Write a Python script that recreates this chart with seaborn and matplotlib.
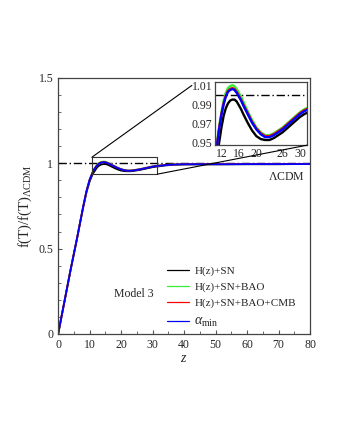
import numpy as np
import pandas as pd
import matplotlib
matplotlib.use("Agg")
import matplotlib.pyplot as plt
from matplotlib.patches import Rectangle, ConnectionPatch
from matplotlib.ticker import MultipleLocator, FixedLocator
import seaborn as sns

# ---------------- data ----------------
z = [0, 1, 2, 3, 4, 5, 6, 7, 8, 9, 10,
     11, 11.5, 12, 12.5, 13, 13.5, 14, 14.5, 15, 15.5, 16, 16.5, 17,
     18, 19, 20, 21, 22, 23, 24, 25, 26, 27, 28, 29, 30, 31, 32,
     34, 36, 38, 40, 45, 50, 55, 60, 65, 70, 75, 80]

f_hsn = [0, 0.095, 0.19, 0.285, 0.38, 0.47, 0.56, 0.655, 0.745, 0.83, 0.893,
         0.938, 0.951, 0.966, 0.978, 0.986, 0.991, 0.994, 0.995, 0.995, 0.993, 0.989, 0.985, 0.980,
         0.971, 0.963, 0.957, 0.954, 0.953, 0.953, 0.955, 0.958, 0.961, 0.965, 0.969, 0.973, 0.977, 0.980, 0.982,
         0.987, 0.990, 0.992, 0.993, 0.994, 0.994, 0.994, 0.994, 0.994, 0.994, 0.995, 0.995]

f_hsn_bao = [0, 0.095, 0.19, 0.285, 0.38, 0.47, 0.56, 0.655, 0.75, 0.838, 0.905,
             0.950, 0.968, 0.982, 0.994, 1.002, 1.007, 1.009, 1.010, 1.009, 1.006, 1.002, 0.998, 0.993,
             0.983, 0.974, 0.966, 0.961, 0.958, 0.958, 0.960, 0.963, 0.966, 0.970, 0.974, 0.978, 0.982, 0.985, 0.987,
             0.990, 0.992, 0.993, 0.994, 0.994, 0.994, 0.995, 0.995, 0.995, 0.995, 0.995, 0.995]

f_hsn_bao_cmb = [0, 0.095, 0.19, 0.285, 0.38, 0.47, 0.56, 0.655, 0.75, 0.837, 0.904,
                 0.949, 0.966, 0.980, 0.991, 0.999, 1.004, 1.006, 1.007, 1.006, 1.003, 0.999, 0.995, 0.990,
                 0.981, 0.972, 0.965, 0.960, 0.957, 0.957, 0.959, 0.962, 0.965, 0.969, 0.973, 0.977, 0.981, 0.984, 0.986,
                 0.990, 0.992, 0.993, 0.994, 0.994, 0.994, 0.995, 0.995, 0.995, 0.995, 0.995, 0.995]

f_alpha_min = [0, 0.095, 0.19, 0.285, 0.38, 0.47, 0.56, 0.655, 0.75, 0.836, 0.903,
               0.948, 0.965, 0.979, 0.990, 0.998, 1.003, 1.005, 1.006, 1.005, 1.002, 0.998, 0.994, 0.989,
               0.980, 0.971, 0.964, 0.959, 0.956, 0.956, 0.958, 0.961, 0.964, 0.968, 0.972, 0.976, 0.980, 0.983, 0.985,
               0.989, 0.991, 0.993, 0.994, 0.994, 0.994, 0.994, 0.995, 0.995, 0.995, 0.995, 0.995]

series_labels = ["H(z)+SN", "H(z)+SN+BAO", "H(z)+SN+BAO+CMB", r"$\alpha_{\mathregular{min}}$"]
series_colors = ["#000000", "#33ee33", "#ff0000", "#0000ff"]

x_ticks = [0, 10, 20, 30, 40, 50, 60, 70, 80]
y_ticks = [0, 0.5, 1, 1.5]
y_tick_labels = ["0", "0.5", "1", "1.5"]
inset_x_ticks = [12, 16, 20, 26, 30]
inset_y_ticks = [0.95, 0.97, 0.99, 1.01]
inset_y_tick_labels = ["0.95", "0.97", "0.99", "1.01"]

df = pd.concat([
    pd.DataFrame({"z": z, "f": vals, "series": lab})
    for vals, lab in zip([f_hsn, f_hsn_bao, f_hsn_bao_cmb, f_alpha_min], series_labels)
], ignore_index=True)

# ---------------- style ----------------
sns.set_style("ticks")
plt.rcParams["font.family"] = ["Liberation Serif", "DejaVu Serif"]
plt.rcParams["mathtext.fontset"] = "custom"
plt.rcParams["mathtext.rm"] = "Liberation Serif"
plt.rcParams["mathtext.it"] = "Liberation Serif:italic"
plt.rcParams["mathtext.bf"] = "Liberation Serif:bold"

TS = 8.5  # tick / text size

fig = plt.figure(figsize=(3.4, 4.4), dpi=100)
ax = fig.add_axes([0.171, 0.241, 0.741, 0.582])

palette = dict(zip(series_labels, series_colors))
sns.lineplot(data=df, x="z", y="f", hue="series", hue_order=series_labels,
             palette=palette, ax=ax, legend=False, linewidth=1.3, sort=False,
             estimator=None)
ax.axhline(1.0, color="black", linestyle=(0, (6, 2, 1, 2)), linewidth=1.0, zorder=1)

ax.set_xlim(0, 80)
ax.set_ylim(0, 1.5)
ax.xaxis.set_major_locator(FixedLocator(x_ticks))
ax.xaxis.set_minor_locator(MultipleLocator(5))
ax.yaxis.set_major_locator(FixedLocator(y_ticks))
ax.set_yticklabels(y_tick_labels)
ax.yaxis.set_minor_locator(MultipleLocator(0.1))
ax.tick_params(which="both", direction="in", labelsize=TS, color="#555555")
ax.tick_params(which="major", length=3)
ax.tick_params(which="minor", length=2)
for sp in ax.spines.values():
    sp.set_color("#444444")
    sp.set_linewidth(0.9)
    sp.set_visible(True)

ax.set_xlabel(r"$z$", fontsize=10, labelpad=1)
ax.set_ylabel(r"f(T)/f(T)$_{\mathregular{\Lambda CDM}}$", fontsize=10.5, labelpad=3)

ax.text(0.905, 0.613, r"$\mathregular{\Lambda}$CDM", transform=ax.transAxes, fontsize=TS,
        ha="center", va="center")
ax.text(0.30, 0.156, "Model 3", transform=ax.transAxes, fontsize=TS,
        ha="center", va="center")

handles = ax.get_lines()[:4]
leg = ax.legend(handles=handles, labels=series_labels, loc="upper left",
                bbox_to_anchor=(0.433, 0.265), frameon=False, fontsize=8,
                handlelength=2.0, handletextpad=0.45, labelspacing=0.55,
                borderaxespad=0, borderpad=0)
for h in leg.legend_handles:
    h.set_linewidth(0.9)
leg.get_texts()[3].set_fontsize(10)

# zoom rectangle
box_x0, box_x1, box_y0, box_y1 = 10.7, 31.5, 0.936, 1.035
ax.add_patch(Rectangle((box_x0, box_y0), box_x1 - box_x0, box_y1 - box_y0,
                       fill=False, edgecolor="#333333", linewidth=0.8, zorder=5))

# inset
axin = fig.add_axes([0.632, 0.670, 0.271, 0.143])
sns.lineplot(data=df, x="z", y="f", hue="series", hue_order=series_labels,
             palette=palette, ax=axin, legend=False, linewidth=1.7, sort=False,
             estimator=None)
axin.axhline(1.0, color="black", linestyle=(0, (6, 2, 1, 2)), linewidth=1.0, zorder=1)
axin.set_xlim(10.5, 31.6)
axin.set_ylim(0.9476, 1.013)
axin.xaxis.set_major_locator(FixedLocator(inset_x_ticks))
axin.yaxis.set_major_locator(FixedLocator(inset_y_ticks))
axin.set_yticklabels(inset_y_tick_labels)
axin.set_xlabel("")
axin.set_ylabel("")
axin.tick_params(which="both", direction="in", labelsize=TS, length=0, pad=2)
for sp in axin.spines.values():
    sp.set_color("#444444")
    sp.set_linewidth(0.9)
    sp.set_visible(True)

con1 = ConnectionPatch(xyA=(box_x0, box_y1), coordsA=ax.transData,
                       xyB=(-0.25, 0.95), coordsB=axin.transAxes,
                       color="black", linewidth=0.8)
con2 = ConnectionPatch(xyA=(box_x1, box_y0), coordsA=ax.transData,
                       xyB=(1.0, 0.0), coordsB=axin.transAxes,
                       color="black", linewidth=0.8)
fig.add_artist(con1)
fig.add_artist(con2)

fig.savefig("out.png", dpi=100, facecolor="white")
